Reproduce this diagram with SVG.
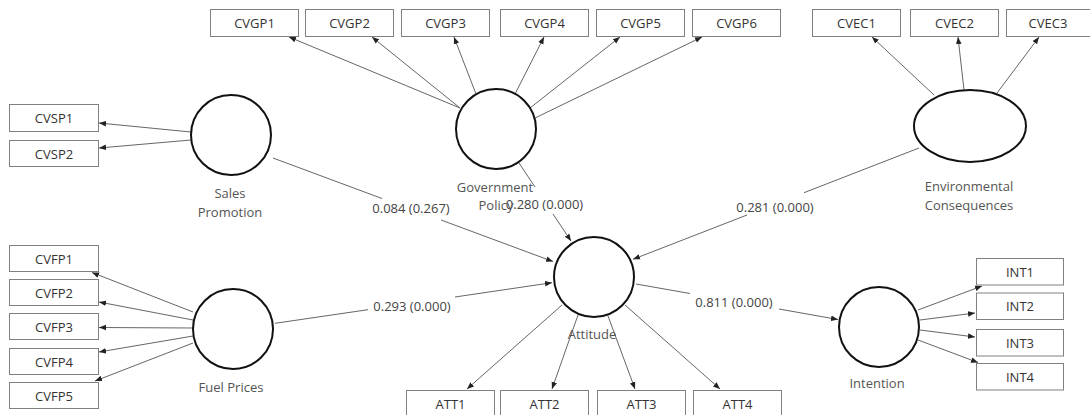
<svg xmlns="http://www.w3.org/2000/svg" width="1090" height="415" viewBox="0 0 1090 415">
<style>
  .box{fill:#fff;stroke:#808080;stroke-width:1}
  .lv{fill:#fff;stroke:#111;stroke-width:2}
  .t{font-family:"Open Sans","Noto Sans",sans-serif;font-size:13px;text-anchor:middle;dominant-baseline:central}
  .ind{fill:#333}
  .lab{fill:#555}
  .coef{fill:#444}
  .ln{stroke:#666;stroke-width:1;fill:none}
  .ar{marker-end:url(#ah)}
</style>
<defs>
  <marker id="ah" viewBox="0 0 10 10" refX="10" refY="5" markerWidth="7" markerHeight="7" orient="auto" markerUnits="userSpaceOnUse">
    <path d="M0,1 L10,5 L0,9 z" fill="#222"/>
  </marker>
</defs>
<rect width="1090" height="415" fill="#fff"/>

<g id="connectors">
  <!-- Government Policy loadings -->
  <line class="ln ar" x1="460" y1="108" x2="289" y2="37"/>
  <line class="ln ar" x1="460" y1="108" x2="372" y2="37"/>
  <line class="ln ar" x1="476" y1="94" x2="454" y2="37"/>
  <line class="ln ar" x1="515" y1="94" x2="544" y2="37"/>
  <line class="ln ar" x1="530" y1="108" x2="620" y2="37"/>
  <line class="ln ar" x1="535" y1="118" x2="702" y2="37"/>
  <!-- Environmental loadings -->
  <line class="ln ar" x1="934" y1="95" x2="872" y2="37"/>
  <line class="ln ar" x1="964" y1="90" x2="958" y2="37"/>
  <line class="ln ar" x1="997" y1="93" x2="1039" y2="37"/>
  <!-- Sales Promotion loadings -->
  <line class="ln ar" x1="191" y1="132" x2="99" y2="123"/>
  <line class="ln ar" x1="191" y1="140" x2="99" y2="148"/>
  <!-- Fuel Prices loadings -->
  <line class="ln ar" x1="193" y1="312" x2="92" y2="272.5"/>
  <line class="ln ar" x1="193" y1="320" x2="99" y2="302"/>
  <line class="ln ar" x1="193" y1="328" x2="99" y2="327.5"/>
  <line class="ln ar" x1="193" y1="336" x2="99" y2="352"/>
  <line class="ln ar" x1="193" y1="343" x2="95" y2="381"/>
  <!-- Intention loadings -->
  <line class="ln ar" x1="918" y1="310" x2="982" y2="286"/>
  <line class="ln ar" x1="920" y1="320" x2="975" y2="313"/>
  <line class="ln ar" x1="920" y1="330" x2="975" y2="337"/>
  <line class="ln ar" x1="918" y1="340" x2="978" y2="362.5"/>
  <!-- Attitude loadings -->
  <line class="ln ar" x1="562" y1="305" x2="467" y2="389"/>
  <line class="ln ar" x1="578" y1="315" x2="552" y2="389"/>
  <line class="ln ar" x1="608" y1="316" x2="635" y2="389"/>
  <line class="ln ar" x1="625" y1="305" x2="720" y2="389"/>
  <!-- Structural paths -->
  <line class="ln" x1="273" y1="158" x2="382" y2="198.5"/>
  <line class="ln ar" x1="441" y1="220" x2="553" y2="261.5"/>
  <line class="ln" x1="519" y1="163" x2="535" y2="187"/>
  <line class="ln ar" x1="553" y1="214" x2="571" y2="241"/>
  <line class="ln" x1="919" y1="148" x2="804" y2="192.7"/>
  <line class="ln ar" x1="747" y1="215" x2="633" y2="259.3"/>
  <line class="ln" x1="275" y1="323.3" x2="368" y2="309.7"/>
  <line class="ln ar" x1="455" y1="297" x2="552" y2="282.7"/>
  <line class="ln" x1="636" y1="284" x2="690" y2="293.5"/>
  <line class="ln ar" x1="779" y1="309" x2="838" y2="319.5"/>
  <!-- coefficient labels -->
  <text class="t coef" x="411" y="208">0.084 (0.267)</text>
  <text class="t coef" x="544.5" y="204">0.280 (0.000)</text>
  <text class="t coef" x="775" y="207">0.281 (0.000)</text>
  <text class="t coef" x="412" y="306">0.293 (0.000)</text>
  <text class="t coef" x="734" y="302">0.811 (0.000)</text>
</g>

<!-- Latent variables -->
<g id="sales-promotion">
  <circle class="lv" cx="231" cy="135" r="40"/>
  <text class="t lab" x="230" y="193">Sales</text>
  <text class="t lab" x="230" y="212">Promotion</text>
</g>
<g id="government-policy">
  <circle class="lv" cx="496" cy="129" r="40"/>
  <text class="t lab" x="495" y="187">Government</text>
  <text class="t lab" x="496" y="205">Policy</text>
</g>
<g id="environmental-consequences">
  <ellipse class="lv" cx="970" cy="126" rx="56" ry="36"/>
  <text class="t lab" x="969" y="186">Environmental</text>
  <text class="t lab" x="969" y="205">Consequences</text>
</g>
<g id="fuel-prices">
  <circle class="lv" cx="233" cy="329" r="40"/>
  <text class="t lab" x="231" y="387">Fuel Prices</text>
</g>
<g id="attitude">
  <circle class="lv" cx="594" cy="277" r="40"/>
  <text class="t lab" x="592" y="334">Attitude</text>
</g>
<g id="intention">
  <circle class="lv" cx="879" cy="327" r="40"/>
  <text class="t lab" x="877" y="383">Intention</text>
</g>

<!-- Indicators -->
<g id="CVGP1"><rect class="box" x="210.5" y="9.5" width="88" height="27"/><text class="t ind" x="254.5" y="23">CVGP1</text></g>
<g id="CVGP2"><rect class="box" x="305.5" y="9.5" width="88" height="27"/><text class="t ind" x="349.5" y="23">CVGP2</text></g>
<g id="CVGP3"><rect class="box" x="401.5" y="9.5" width="88" height="27"/><text class="t ind" x="445.5" y="23">CVGP3</text></g>
<g id="CVGP4"><rect class="box" x="500.5" y="9.5" width="88" height="27"/><text class="t ind" x="544.5" y="23">CVGP4</text></g>
<g id="CVGP5"><rect class="box" x="596.5" y="9.5" width="88" height="27"/><text class="t ind" x="640.5" y="23">CVGP5</text></g>
<g id="CVGP6"><rect class="box" x="692.5" y="9.5" width="88" height="27"/><text class="t ind" x="736.5" y="23">CVGP6</text></g>
<g id="CVEC1"><rect class="box" x="812.5" y="9.5" width="88" height="27"/><text class="t ind" x="856.5" y="23">CVEC1</text></g>
<g id="CVEC2"><rect class="box" x="910.5" y="9.5" width="88" height="27"/><text class="t ind" x="954.5" y="23">CVEC2</text></g>
<g id="CVEC3"><rect class="box" x="1006.5" y="9.5" width="88" height="27"/><text class="t ind" x="1048" y="23">CVEC3</text></g>

<g id="CVSP1"><rect class="box" x="9.5" y="104.5" width="89" height="27"/><text class="t ind" x="54" y="118">CVSP1</text></g>
<g id="CVSP2"><rect class="box" x="9.5" y="140.5" width="89" height="26"/><text class="t ind" x="54" y="153.5">CVSP2</text></g>

<g id="CVFP1"><rect class="box" x="9.5" y="245.5" width="89" height="26"/><text class="t ind" x="54" y="258.5">CVFP1</text></g>
<g id="CVFP2"><rect class="box" x="9.5" y="279.5" width="89" height="26"/><text class="t ind" x="54" y="292.5">CVFP2</text></g>
<g id="CVFP3"><rect class="box" x="9.5" y="313.5" width="89" height="26"/><text class="t ind" x="54" y="326.5">CVFP3</text></g>
<g id="CVFP4"><rect class="box" x="9.5" y="348.5" width="89" height="26"/><text class="t ind" x="54" y="361.5">CVFP4</text></g>
<g id="CVFP5"><rect class="box" x="9.5" y="382.5" width="89" height="26"/><text class="t ind" x="54" y="395.5">CVFP5</text></g>

<g id="INT1"><rect class="box" x="976.5" y="258.5" width="87" height="26.5"/><text class="t ind" x="1020" y="271.5">INT1</text></g>
<g id="INT2"><rect class="box" x="976.5" y="293" width="87" height="26.5"/><text class="t ind" x="1020" y="306">INT2</text></g>
<g id="INT3"><rect class="box" x="976.5" y="329.5" width="87" height="26.5"/><text class="t ind" x="1020" y="342.5">INT3</text></g>
<g id="INT4"><rect class="box" x="976.5" y="363.5" width="87" height="26.5"/><text class="t ind" x="1020" y="376.5">INT4</text></g>

<g id="ATT1"><rect class="box" x="406.5" y="390.5" width="88" height="27"/><text class="t ind" x="450.5" y="403.5">ATT1</text></g>
<g id="ATT2"><rect class="box" x="500.5" y="390.5" width="88" height="27"/><text class="t ind" x="544.5" y="403.5">ATT2</text></g>
<g id="ATT3"><rect class="box" x="597.5" y="390.5" width="88" height="27"/><text class="t ind" x="641.5" y="403.5">ATT3</text></g>
<g id="ATT4"><rect class="box" x="693.5" y="390.5" width="88" height="27"/><text class="t ind" x="737.5" y="403.5">ATT4</text></g>
</svg>
